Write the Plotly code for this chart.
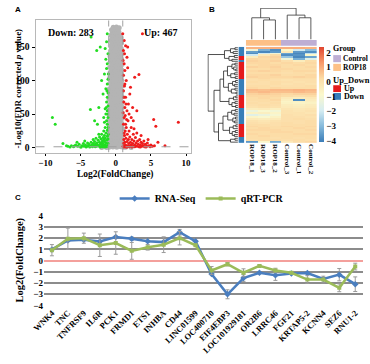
import plotly.graph_objects as go

W, H = 370, 364
def px(x): return x / W
def py(y): return 1 - y / H

SERIF = "Liberation Serif"
SANS = "Liberation Sans"

# ---------------- Panel A: volcano data ----------------
GREEN_PTS = [
 (-6.8,2),(-6.3,3),(-6.0,1.5),(-5.7,4),(-5.4,2),(-5.2,5),(-5.0,1),(-4.8,3),(-4.6,6),(-4.5,2),
 (-4.3,4),(-4.2,1),(-4.0,7),(-3.9,3),(-3.8,5),(-3.6,2),(-3.5,8),(-3.4,4),(-3.3,1.5),(-3.2,6),
 (-3.1,3),(-3.0,9),(-2.9,5),(-2.8,2),(-2.7,7),(-2.6,4),(-2.5,11),(-2.4,3),(-2.3,8),(-2.2,5),
 (-2.1,13),(-2.0,2),(-2.0,7),(-1.9,10),(-1.9,4),(-1.8,15),(-1.8,6),(-1.7,2),(-1.7,12),(-1.6,9),
 (-1.6,18),(-1.5,4),(-1.5,14),(-1.4,7),(-1.4,22),(-1.3,11),(-1.3,3),(-1.2,17),(-1.2,26),(-1.1,6),
 (-1.1,13),(-1.05,20),(-1.1,30),(-1.2,35),(-1.3,40),(-1.1,45),(-1.5,30),(-1.7,25),(-2.0,20),(-2.3,16),
 (-1.4,50),(-1.2,55),(-1.6,38),(-1.1,62),(-1.3,68),(-1.5,58),(-1.2,75),(-1.1,82),(-1.4,88),(-1.2,95),
 (-1.1,102),(-1.6,110),(-1.3,118),(-1.2,125),(-1.4,132),(-1.1,140),(-1.5,148),(-1.3,158),(-1.2,170),
 (-2.2,150),(-2.7,145),(-2.0,100),(-1.8,80),(-2.4,60),(-3.6,57),(-3.0,40),(-2.6,35),(-3.5,165),
 (-9.0,45),(-8.6,35),(-7.5,6),(-7.0,3),(-6.5,1),(-5.9,2.5),(-4.9,0.8),(-4.1,2.2),(-3.7,1),(-3.3,3.5),
 (-2.9,1.2),(-2.5,2.5),(-2.2,1),(-1.9,1.5),(-1.6,0.8),(-1.4,1.2),(-1.2,2),(-3.2,12),(-2.8,14),
 (-2.4,20),(-4.4,10),(-5.5,8),(-1.15,50),(-1.35,60),(-1.7,45),(-1.25,85),(-1.05,110),
]
RED_PTS = [
 (1.05,2),(1.1,6),(1.15,12),(1.2,3),(1.25,18),(1.3,8),(1.35,25),(1.4,4),(1.45,14),(1.5,30),
 (1.5,1),(1.6,9),(1.65,20),(1.7,3),(1.75,40),(1.8,12),(1.85,6),(1.9,25),(2.0,2),(2.0,16),
 (2.1,8),(2.2,30),(2.2,4),(2.3,12),(2.4,6),(2.5,20),(2.5,2),(2.6,10),(2.7,4),(2.8,15),
 (2.9,7),(3.0,2),(3.0,22),(3.1,10),(3.2,5),(3.3,1.5),(3.4,12),(3.5,4),(3.6,8),(3.7,2),
 (3.8,6),(3.9,3),(4.0,10),(4.1,1.5),(4.2,5),(4.4,2),(4.5,7),(4.7,3),(4.9,1.5),(5.0,4),
 (5.2,2),(5.5,3),(1.1,1),(1.3,1.5),(1.6,0.8),(1.9,1.2),(2.3,0.8),(2.7,1.5),(3.5,0.8),(4.3,0.9),
 (1.1,35),(1.2,45),(1.05,52),(1.3,60),(1.15,68),(1.4,75),(1.1,85),(1.25,92),(1.5,100),(1.1,108),
 (1.3,115),(1.2,125),(1.6,135),(1.1,145),(1.4,152),(1.7,150),(1.2,160),(1.0,170),(1.9,50),(2.2,45),
 (2.5,40),(1.8,65),(2.0,80),(2.4,60),(1.7,119),(3.3,109),(2.7,105),(3.8,170),(2.1,90),(3.0,55),
 (1.6,55),(1.35,48),(5.4,42),(5.7,32),(8.9,38),(6.0,8),(7.0,3),(1.2,22),(1.4,35),(1.15,75),
 (1.3,95),(1.05,130),(1.45,65),(2.6,28),(3.6,18),(4.6,12),(1.55,42),(1.25,140),
]
GRAY_PTS = [
 (-0.95,0.5),(-0.4,1),(0.15,0.6),(0.7,1.2),(1.05,0.4),(-1.3,0.3),(1.4,0.5),(-2.0,0.2),(2.2,0.3),
 (-0.7,4),(-0.15,3.5),(0.4,4.2),(0.9,3.8),(-0.9,8),(-0.35,7.6),(0.2,8.3),(0.75,7.9),
 (-0.65,12),(-0.1,11.5),(0.45,12.4),(0.95,11.8),(-0.88,16),(-0.3,16.3),(0.25,15.7),(0.8,16.1),
 (-0.7,20.2),(-0.12,19.8),(0.38,20.4),(0.92,20),(-0.93,24),(-0.4,24.5),(0.15,23.8),(0.7,24.3),
 (-0.6,28.1),(-0.05,27.7),(0.5,28.4),(0.97,28),(-0.85,32),(-0.32,32.4),(0.22,31.8),(0.78,32.2),
 (-0.72,36.3),(-0.18,35.9),(0.36,36.5),(0.9,36),(-0.95,40),(-0.42,40.4),(0.1,39.8),(0.65,40.3),
 (-0.62,44.2),(-0.08,43.8),(0.47,44.5),(0.96,44),(-0.87,48),(-0.33,48.3),(0.2,47.7),(0.75,48.2),
 (-0.7,52.1),(-0.15,51.8),(0.4,52.4),(0.92,52),(-0.9,56),(-0.38,56.4),(0.15,55.8),(0.68,56.2),
 (-0.64,60.2),(-0.1,59.7),(0.44,60.4),(0.95,60),(-0.86,64),(-0.3,64.3),(0.24,63.8),(0.78,64.1),
 (-0.7,68.2),(-0.16,67.8),(0.38,68.4),(0.9,68),(-0.92,72),(-0.4,72.4),(0.12,71.8),(0.66,72.3),
 (-0.6,76.2),(-0.06,75.8),(0.48,76.4),(0.94,76),(-0.84,80),(-0.3,80.3),(0.22,79.7),(0.76,80.2),
 (-0.68,84.1),(-0.14,83.8),(0.4,84.4),(0.9,84),(-0.9,88),(-0.36,88.4),(0.16,87.8),(0.7,88.2),
 (-0.62,92.2),(-0.08,91.8),(0.46,92.4),(0.92,92),(-0.82,96),(-0.28,96.3),(0.26,95.7),(0.78,96.2),
 (-0.66,100.1),(-0.12,99.8),(0.42,100.4),(0.88,100),(-0.88,104),(-0.34,104.4),(0.18,103.8),(0.7,104.2),
 (-0.6,108.2),(-0.06,107.8),(0.46,108.4),(0.9,108),(-0.8,112),(-0.26,112.3),(0.26,111.7),(0.76,112.2),
 (-0.64,116.1),(-0.1,115.8),(0.42,116.4),(0.86,116),(-0.84,120),(-0.32,120.4),(0.2,119.8),(0.7,120.2),
 (-0.58,124.2),(-0.04,123.8),(0.48,124.4),(0.88,124),(-0.78,128),(-0.24,128.3),(0.28,127.7),(0.74,128.2),
 (-0.62,132.1),(-0.08,131.8),(0.44,132.4),(0.84,132),(-0.8,136),(-0.3,136.4),(0.2,135.8),(0.68,136.2),
 (-0.56,140.2),(-0.02,139.8),(0.5,140.4),(0.86,140),(-0.74,144),(-0.22,144.3),(0.3,143.7),(0.72,144.2),
 (-0.6,148.1),(-0.06,147.8),(0.42,148.4),(0.8,148),(-0.76,152),(-0.26,152.4),(0.22,151.8),(0.64,152.2),
 (-0.52,156.2),(0.0,155.8),(0.48,156.4),(0.82,156),(-0.7,160),(-0.2,160.3),(0.3,159.7),(0.7,160.2),
 (-0.55,164.1),(-0.04,163.8),(0.44,164.4),(0.76,164),(-0.66,168),(-0.18,168.4),(0.26,167.8),(0.62,168.2),
 (-0.48,172.2),(0.02,171.8),(0.46,172.4),(-0.6,176),(-0.12,176.3),(0.32,175.7),
 (-0.35,179.5),(0.1,180),(0.5,178.8),
]
FC_THRESH = [-1, 1]
P_THRESH = 1.3
DOWN_COUNT, UP_COUNT = 283, 467

# ---------------- Panel B: heatmap data ----------------
SAMPLES = ["ROP18_1", "ROP18_3", "ROP18_2", "Control_3", "Control_1", "Control_2"]
SAMPLE_GROUP = [0, 0, 0, 1, 1, 1]          # 0 = ROP18, 1 = Control
HEAT = [
 [0.9,0.9,1.0,1.0,1.0,0.9],
 [-1.2,-3.2,-3.8,-0.8,-2.0,-3.0],
 [-3.5,-3.9,-3.6,-0.3,-3.6,-3.8],
 [-3.8,-2.0,-1.2,-3.4,-3.9,-2.2],
 [-2.0,-0.3,0.2,-3.8,-3.7,-0.8],
 [-0.4,0.3,0.4,-2.8,-3.9,-3.4],
 [0.3,0.2,0.3,-1.2,-3.2,-1.6],
 [0.4,0.3,0.4,0.1,-0.4,0.2],
 [0.3,0.3,0.2,0.3,0.2,0.3],
 [0.2,0.3,0.3,0.2,0.3,0.2],
 [0.4,0.3,0.4,0.2,0.2,0.3],
 [0.2,0.2,0.3,0.3,0.2,0.2],
 [0.3,0.4,0.3,0.2,0.3,0.3],
 [0.2,0.2,0.2,0.1,0.2,0.1],
 [0.3,0.3,0.4,0.2,0.2,0.3],
 [0.4,0.3,0.3,0.3,0.4,0.3],
 [0.2,0.3,0.2,0.2,0.2,0.2],
 [0.1,0.2,0.1,0.0,0.1,0.1],
 [0.2,0.1,0.2,0.1,0.0,0.1],
 [0.1,0.1,0.2,0.0,0.1,0.0],
 [0.2,0.2,0.1,0.1,0.1,0.2],
 [0.3,0.2,0.3,0.2,0.2,0.2],
 [0.8,0.7,0.8,0.8,0.9,0.8],
 [0.7,0.8,0.7,0.7,0.8,0.7],
 [0.4,0.5,0.4,0.3,0.4,0.4],
 [0.3,0.3,0.3,0.2,0.1,0.2],
 [0.2,0.3,0.2,-0.3,-0.4,-0.2],
 [0.2,0.2,0.3,-0.5,-3.8,-0.4],
 [0.1,0.2,0.1,-0.7,-0.6,-0.5],
 [0.2,0.1,0.2,-0.6,-0.7,-0.6],
 [0.1,0.2,0.1,-0.4,-0.5,-0.4],
 [0.0,0.1,0.0,-0.3,-0.4,-0.3],
 [-0.4,-0.3,-0.5,-0.1,-0.2,-0.1],
 [-1.3,-0.9,-1.1,0.0,-0.1,0.0],
 [-0.6,-0.5,-0.7,0.0,0.0,-0.1],
 [-1.6,-1.3,-1.0,0.1,0.0,0.1],
 [-0.7,-0.9,-0.6,0.1,0.1,0.0],
 [-0.3,-0.4,-0.3,0.1,0.2,0.1],
 [0.0,-0.1,0.0,0.1,0.1,0.2],
 [0.1,0.0,0.1,0.2,0.1,0.2],
 [0.2,0.2,0.1,0.2,0.2,0.2],
 [0.3,0.2,0.2,0.3,0.2,0.3],
 [0.2,0.3,0.2,0.2,0.3,0.2],
 [0.3,0.3,0.3,0.2,0.2,0.3],
 [0.2,0.2,0.3,0.3,0.2,0.2],
 [0.3,0.2,0.2,0.2,0.3,0.3],
 [0.2,0.3,0.2,0.2,0.2,0.2],
 [0.2,0.2,0.1,0.2,0.1,0.2],
 [0.1,0.2,0.2,0.1,0.2,0.1],
 [-3.6,-0.8,-3.3,-0.2,0.2,0.3],
]
UP_DOWN = ([0]*5 + [1]*2 + [0] + [1]*9 + [0]*8 + [1]*7 + [0]*8 + [1]*7 + [0]*3)  # 1 = Up
COL_TREE = (10.0, (6.95, 0, (6.25, 1, 2)), (7.8, 3, (6.95, 4, 5)))
T_TOP = (4.5, (2.5, (1.0, 0, 1), (1.6, 2, 3)), (3.0, (1.2, 4, 5), (2.0, 6, 7)))
R_A = (3.5, (2.0, (1.0, 8, 9), (1.4, 10, (0.7, 11, 12))), (2.4, (1.1, 13, 14), (0.9, 15, 16)))
R_B = (3.2, (1.8, (0.8, 17, 18), (1.2, 19, 20)), (2.2, (1.0, 21, 22), (0.6, 23, 24)))
R_C = (3.0, (1.5, (0.7, 25, 26), 27), (2.0, (1.0, 28, 29), (0.8, 30, 31)))
R_D = (3.4, (2.1, (0.9, 32, 33), (1.3, 34, 35)), (1.7, (0.8, 36, 37), (1.1, 38, 39)))
R_E = (2.8, (1.6, (0.7, 40, 41), 42), (1.9, (0.9, 43, 44), (1.2, 45, 46)))
R_F = (2.5, (1.0, 47, 48), 49)
ROW_TREE = (10.0, T_TOP, (8.0, (6.0, (4.8, R_A, R_B), R_C), (6.5, (5.0, R_D, R_E), R_F)))

# ---------------- Panel C: validation data ----------------
GENES = ["WNK4","TNC","TNFRSF9","IL6R","PCK1","FRMD1","ETS1","INHBA","CD44","LINC01599",
         "LOC400710","EIF4EBP3","LOC101929181","OR2B6","LRRC46","FGF21","KRTAP5-2","KCNN4","SEZ6","RNU1-2"]
RNASEQ = [1.0,1.8,1.85,1.71,2.1,1.95,1.72,1.65,2.53,1.72,
          -1.2,-3.0,-1.55,-1.08,-1.31,-1.14,-1.1,-1.63,-1.25,-2.1]
RNASEQ_ERR = [0,0,0,0,0.1,0.15,0,0,0.25,0,0,0.4,0.3,0,0.45,0,0,0,0.55,0.65]
QPCR = [0.93,1.95,2.0,1.37,1.57,0.87,1.19,1.42,2.0,1.37,
        -0.88,-0.32,-1.08,-0.47,-0.88,-1.08,-1.69,-1.69,-2.42,-0.53]
QPCR_ERR = [0.5,0.95,0.45,1.0,1.0,0.75,0.25,0.7,0.6,0.1,0.35,0.15,0.35,0.1,0.2,0.1,0.35,0.3,0.35,0.3]

fig = go.Figure()

# ---- A ----
fig.add_trace(go.Scatter(x=[p[0] for p in GRAY_PTS], y=[p[1] for p in GRAY_PTS], mode="markers",
                         marker=dict(color="#b4b4b4", size=5), xaxis="x", yaxis="y", showlegend=False))
fig.add_trace(go.Scatter(x=[p[0] for p in GREEN_PTS], y=[p[1] for p in GREEN_PTS], mode="markers",
                         marker=dict(color="#22dd22", size=3), xaxis="x", yaxis="y", showlegend=False))
fig.add_trace(go.Scatter(x=[p[0] for p in RED_PTS], y=[p[1] for p in RED_PTS], mode="markers",
                         marker=dict(color="#ee1c1c", size=3), xaxis="x", yaxis="y", showlegend=False))
YR_A = [-7.3, 190]
XR_A = [-11.4, 10.7]
for fc in FC_THRESH:
    fig.add_trace(go.Scatter(x=[fc, fc], y=YR_A, mode="lines", line=dict(color="#a0a0a0", width=1, dash="dash"),
                             xaxis="x", yaxis="y", showlegend=False))
fig.add_trace(go.Scatter(x=XR_A, y=[P_THRESH, P_THRESH], mode="lines", line=dict(color="#a0a0a0", width=1, dash="dash"),
                         xaxis="x", yaxis="y", showlegend=False))

# ---- B ----
RDYLBU = [[0, "#3b7db8"], [1/6, "#86badb"], [2/6, "#d6edf2"], [3/6, "#fbf8cc"],
          [4/6, "#fcdca6"], [5/6, "#f89a6a"], [1, "#e0452f"]]
fig.add_trace(go.Heatmap(z=HEAT, x=list(range(6)), y=list(range(len(HEAT))), colorscale=RDYLBU,
                         zmin=-4.1, zmax=2.4, xaxis="x2", yaxis="y2", showscale=True,
                         colorbar=dict(x=px(317), xanchor="left", y=py(43), yanchor="top", len=95, lenmode="pixels",
                                       thickness=5, outlinewidth=0, tickvals=[-4, -3, -2, -1, 0, 1, 2],
                                       ticks="", xpad=0, ypad=0,
                                       tickfont=dict(family=SERIF, size=9, weight="bold", color="black"))))
fig.add_trace(go.Heatmap(z=[SAMPLE_GROUP], x=list(range(6)), y=[0],
                         colorscale=[[0, "#FDC086"], [0.5, "#FDC086"], [0.5, "#BEAED4"], [1, "#BEAED4"]],
                         zmin=0, zmax=1, showscale=False, xaxis="x2", yaxis="y3"))
fig.add_trace(go.Heatmap(z=[[v] for v in UP_DOWN], x=[0], y=list(range(len(UP_DOWN))),
                         colorscale=[[0, "#377EB8"], [0.5, "#377EB8"], [0.5, "#E41A1C"], [1, "#E41A1C"]],
                         zmin=0, zmax=1, showscale=False, xaxis="x3", yaxis="y2"))

def dendro(node, xs, ys):
    if isinstance(node, int):
        return node, 0.0
    h, l, r = node
    pl, hl = dendro(l, xs, ys)
    pr, hr = dendro(r, xs, ys)
    xs += [pl, pl, pr, pr, None]
    ys += [hl, h, h, hr, None]
    return (pl + pr) / 2, h

cx, cy = [], []
dendro(COL_TREE, cx, cy)
fig.add_trace(go.Scatter(x=cx, y=cy, mode="lines", line=dict(color="#333333", width=0.8),
                         xaxis="x2", yaxis="y4", showlegend=False))
rp, rh = [], []
dendro(ROW_TREE, rp, rh)
fig.add_trace(go.Scatter(x=rh, y=rp, mode="lines", line=dict(color="#222222", width=0.8),
                         xaxis="x4", yaxis="y2", showlegend=False))

# ---- C ----
xi = list(range(len(GENES)))
fig.add_trace(go.Scatter(x=xi, y=RNASEQ, mode="lines+markers", name="RNA-Seq",
                         line=dict(color="#4a7ebf", width=2.5), marker=dict(symbol="diamond", size=5),
                         error_y=dict(type="data", array=RNASEQ_ERR, color="#9a9a9a", thickness=1, width=2),
                         xaxis="x5", yaxis="y5"))
fig.add_trace(go.Scatter(x=xi, y=QPCR, mode="lines+markers", name="qRT-PCR",
                         line=dict(color="#9bbb59", width=2.5), marker=dict(symbol="square", size=4),
                         error_y=dict(type="data", array=QPCR_ERR, color="#9a9a9a", thickness=1, width=2),
                         xaxis="x5", yaxis="y5"))

bold9 = dict(family=SERIF, size=9, weight="bold", color="black")
hidden = dict(visible=False, showgrid=False, zeroline=False)

fig.update_layout(
    width=W, height=H, autosize=False, margin=dict(l=0, r=0, t=0, b=0, pad=0),
    paper_bgcolor="white", plot_bgcolor="rgba(0,0,0,0)",
    xaxis=dict(domain=[px(24.3), px(185)], anchor="y", range=XR_A, tickvals=[-10, -5, 0, 5, 10],
               ticks="outside", ticklen=2, tickcolor="black", showline=True, mirror=True,
               linecolor="#b8b8b8", linewidth=1, showgrid=False, zeroline=False,
               tickfont=dict(family=SERIF, size=9, weight="bold", color="black")),
    yaxis=dict(domain=[py(151.7), py(15.7)], anchor="x", range=YR_A, tickvals=[0, 50, 100, 150],
               ticks="outside", ticklen=3, tickcolor="black", showline=True, mirror=True,
               linecolor="#b8b8b8", linewidth=1, showgrid=False, zeroline=False,
               tickfont=dict(family=SERIF, size=9.5, weight="bold", color="black")),
    xaxis2=dict(domain=[px(241.7), px(315)], anchor="y2", range=[-0.5, 5.5], tickvals=list(range(6)),
                ticktext=SAMPLES, tickangle=90, ticks="", showgrid=False, zeroline=False, showline=False,
                tickfont=dict(family=SERIF, size=7, weight="bold", color="black")),
    yaxis2=dict(domain=[py(142), py(43)], anchor="x2", range=[len(HEAT) - 0.5, -0.5], **hidden),
    yaxis3=dict(domain=[py(42), py(36)], anchor="x2", range=[-0.5, 0.5], **hidden),
    yaxis4=dict(domain=[py(35.5), py(3)], anchor="x2", range=[0, 10.1], **hidden),
    xaxis3=dict(domain=[px(234), px(240)], anchor="y2", range=[-0.5, 0.5], **hidden),
    xaxis4=dict(domain=[px(202), px(233.5)], anchor="y2", range=[10.2, 0], **hidden),
    xaxis5=dict(domain=[px(33), px(363)], anchor="y5", range=[-0.5, len(GENES) - 0.5], tickvals=xi,
                ticktext=GENES, tickangle=-45, ticks="", showgrid=False, zeroline=False, showline=False,
                tickfont=dict(family=SERIF, size=8.5, weight="bold", color="black")),
    yaxis5=dict(domain=[py(309), py(216.7)], anchor="x5", range=[-4, 4], dtick=1, ticks="",
                showgrid=True, gridcolor="#8c8c8c", gridwidth=1.5, zeroline=True,
                zerolinecolor="#f4a09c", zerolinewidth=1.5, showline=False, tickfont=bold9),
    legend=dict(orientation="h", x=px(196), xanchor="center", y=py(199), yanchor="middle",
                font=dict(family=SERIF, size=10, weight="bold", color="black"),
                bgcolor="rgba(0,0,0,0)", itemwidth=30),
)

ann = []
def T(text, x, y, size=9, angle=0, xanchor="center", family=SERIF, weight="bold"):
    ann.append(dict(text=text, x=px(x), y=py(y), xref="paper", yref="paper", showarrow=False,
                    xanchor=xanchor, yanchor="middle", textangle=angle, borderpad=0,
                    font=dict(family=family, size=size, weight=weight, color="black")))

T("A", 2, 5, size=8, xanchor="left", family=SANS)
T("B", 203, 5, size=8, xanchor="left", family=SANS)
T("C", 2, 198, size=8, xanchor="left", family=SANS)
T(f"Down: {DOWN_COUNT}", 61, 28, size=10)
T(f"Up: {UP_COUNT}", 154, 28, size=10)
T("Log2(FoldChange)", 107, 174, size=9.5)
T("-Log10(FDR corrected <i>p</i> value)", 6, 86, size=9, angle=-90)
T("Log2(FoldChange)", 8, 262, size=10.5, angle=-90)
T("Group", 331, 44.5, size=8, xanchor="left")
T("Control", 341.5, 55.2, size=7.5, xanchor="left")
T("ROP18", 341.5, 64.4, size=7.5, xanchor="left")
T("Up_Down", 330.5, 77.5, size=8.5, xanchor="left")
T("Up", 342, 86, size=8, xanchor="left")
T("Down", 342, 94.5, size=8, xanchor="left")

shapes = []
for (y0, y1, c) in [(51.5, 58.8, "#BEAED4"), (60.5, 67.8, "#FDC086"), (82.5, 89.5, "#E41A1C"), (90.5, 97.5, "#377EB8")]:
    shapes.append(dict(type="rect", xref="paper", yref="paper", x0=px(332), x1=px(340),
                       y0=py(y1), y1=py(y0), fillcolor=c, line=dict(width=0)))

fig.update_layout(annotations=ann, shapes=shapes)
fig.write_html("out.html", config={"displayModeBar": False},
               post_script=("document.body.style.margin='0';document.body.style.overflow='hidden';"
                            "document.documentElement.style.overflow='hidden';"))
